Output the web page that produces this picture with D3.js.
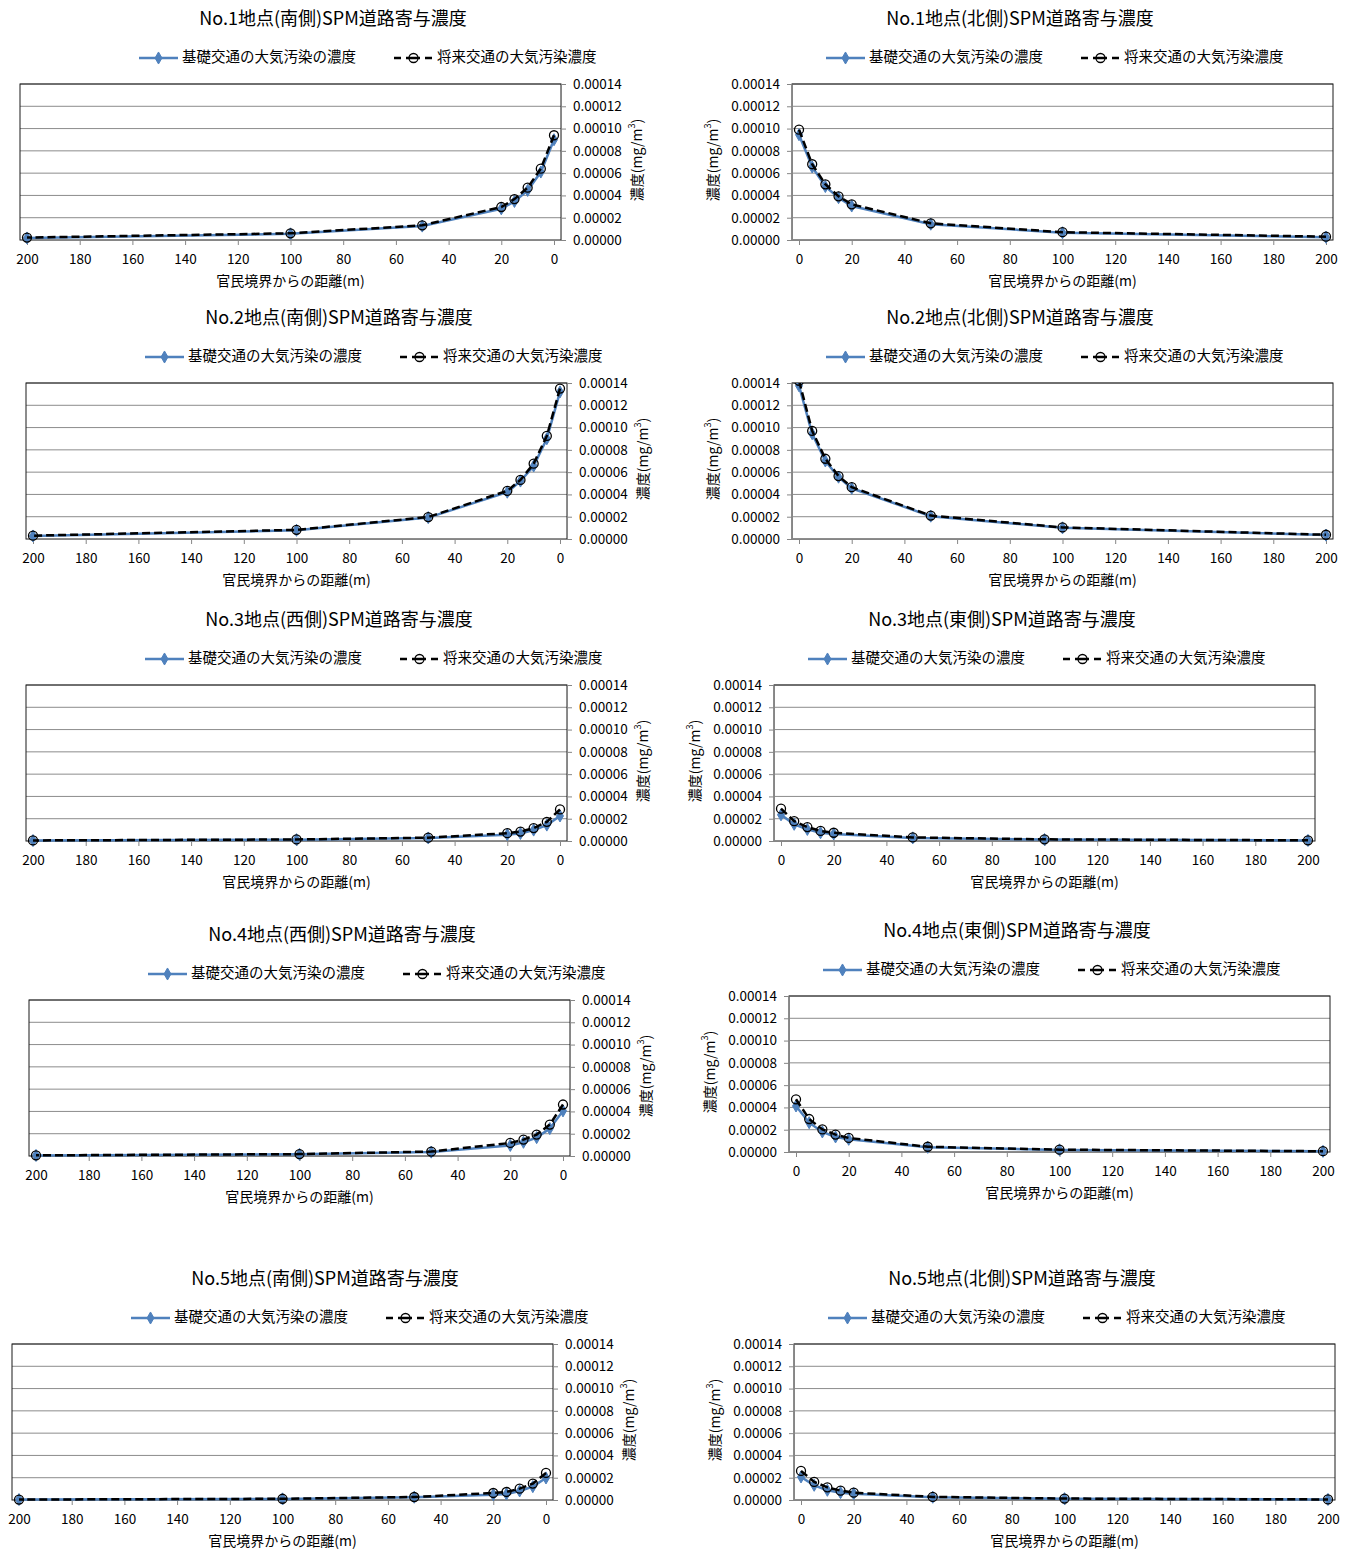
<!DOCTYPE html>
<html>
<head>
<meta charset="utf-8">
<script src="https://cdn.jsdelivr.net/npm/d3@7"></script>
<style>
  body { margin: 0; background: #fff; }
  text { font-family: "Noto Sans CJK JP", "Noto Sans", sans-serif; fill: #000; }
</style>
</head>
<body>
<div id="chart"></div>
<script>
// distance from the boundary (m)
const distance = [0, 5, 10, 15, 20, 50, 100, 200];

// SPM road contribution (mg/m3) - base traffic / future traffic
const no1SouthBase = [9.0e-5, 6.1e-5, 4.45e-5, 3.46e-5, 2.8e-5, 1.25e-5, 0.55e-5, 0.18e-5];
const no1SouthFuture = [9.4e-5, 6.4e-5, 4.7e-5, 3.67e-5, 2.96e-5, 1.32e-5, 0.6e-5, 0.22e-5];
const no1NorthBase = [9.45e-5, 6.55e-5, 4.8e-5, 3.8e-5, 3.05e-5, 1.42e-5, 0.65e-5, 0.25e-5];
const no1NorthFuture = [9.9e-5, 6.8e-5, 5.0e-5, 3.92e-5, 3.2e-5, 1.5e-5, 0.7e-5, 0.3e-5];
const no2SouthBase = [13.2e-5, 9.0e-5, 6.55e-5, 5.2e-5, 4.2e-5, 1.92e-5, 0.78e-5, 0.27e-5];
const no2SouthFuture = [13.5e-5, 9.25e-5, 6.76e-5, 5.3e-5, 4.32e-5, 1.97e-5, 0.82e-5, 0.3e-5];
const no2NorthBase = [13.75e-5, 9.45e-5, 7.0e-5, 5.55e-5, 4.55e-5, 2.05e-5, 1.0e-5, 0.35e-5];
const no2NorthFuture = [14.2e-5, 9.7e-5, 7.2e-5, 5.65e-5, 4.65e-5, 2.1e-5, 1.04e-5, 0.38e-5];
const no3WestBase = [2.25e-5, 1.43e-5, 0.98e-5, 0.68e-5, 0.57e-5, 0.27e-5, 0.12e-5, 0.04e-5];
const no3WestFuture = [2.83e-5, 1.72e-5, 1.16e-5, 0.85e-5, 0.7e-5, 0.3e-5, 0.14e-5, 0.05e-5];
const no3EastBase = [2.35e-5, 1.5e-5, 1.04e-5, 0.74e-5, 0.63e-5, 0.28e-5, 0.13e-5, 0.05e-5];
const no3EastFuture = [2.9e-5, 1.78e-5, 1.25e-5, 0.9e-5, 0.74e-5, 0.32e-5, 0.15e-5, 0.06e-5];
const no4WestBase = [4.05e-5, 2.46e-5, 1.65e-5, 1.23e-5, 0.95e-5, 0.35e-5, 0.15e-5, 0.05e-5];
const no4WestFuture = [4.62e-5, 2.82e-5, 1.92e-5, 1.47e-5, 1.17e-5, 0.4e-5, 0.17e-5, 0.06e-5];
const no4EastBase = [4.13e-5, 2.63e-5, 1.8e-5, 1.35e-5, 1.14e-5, 0.42e-5, 0.19e-5, 0.06e-5];
const no4EastFuture = [4.73e-5, 2.96e-5, 2.03e-5, 1.56e-5, 1.26e-5, 0.47e-5, 0.21e-5, 0.07e-5];
const no5SouthBase = [1.98e-5, 1.2e-5, 0.81e-5, 0.54e-5, 0.48e-5, 0.25e-5, 0.1e-5, 0.04e-5];
const no5SouthFuture = [2.43e-5, 1.47e-5, 1.02e-5, 0.72e-5, 0.63e-5, 0.27e-5, 0.11e-5, 0.04e-5];
const no5NorthBase = [2.07e-5, 1.32e-5, 0.87e-5, 0.66e-5, 0.57e-5, 0.25e-5, 0.12e-5, 0.05e-5];
const no5NorthFuture = [2.61e-5, 1.62e-5, 1.14e-5, 0.84e-5, 0.66e-5, 0.28e-5, 0.13e-5, 0.05e-5];

const titles = [
  "No.1地点(南側)SPM道路寄与濃度", "No.1地点(北側)SPM道路寄与濃度",
  "No.2地点(南側)SPM道路寄与濃度", "No.2地点(北側)SPM道路寄与濃度",
  "No.3地点(西側)SPM道路寄与濃度", "No.3地点(東側)SPM道路寄与濃度",
  "No.4地点(西側)SPM道路寄与濃度", "No.4地点(東側)SPM道路寄与濃度",
  "No.5地点(南側)SPM道路寄与濃度", "No.5地点(北側)SPM道路寄与濃度"
];
const seriesNames = ["基礎交通の大気汚染の濃度", "将来交通の大気汚染濃度"];
const xTicks = [0, 20, 40, 60, 80, 100, 120, 140, 160, 180, 200];
const yTicks = [0, 0.00002, 0.00004, 0.00006, 0.00008, 0.0001, 0.00012, 0.00014];
const xTitle = "官民境界からの距離(m)";

const baseColor = "#4f81bd";

// panel layout (left panels: reversed x, y axis on the right)
var panels = [
  { x: 20, y: 84, side: "L", base: no1SouthBase, future: no1SouthFuture },
  { x: 792, y: 84, side: "R", base: no1NorthBase, future: no1NorthFuture },
  { x: 26, y: 383, side: "L", base: no2SouthBase, future: no2SouthFuture },
  { x: 792, y: 383, side: "R", base: no2NorthBase, future: no2NorthFuture },
  { x: 26, y: 685, side: "L", base: no3WestBase, future: no3WestFuture },
  { x: 774, y: 685, side: "R", base: no3EastBase, future: no3EastFuture },
  { x: 29, y: 1000, side: "L", base: no4WestBase, future: no4WestFuture },
  { x: 789, y: 996, side: "R", base: no4EastBase, future: no4EastFuture },
  { x: 12, y: 1344, side: "L", base: no5SouthBase, future: no5SouthFuture },
  { x: 794, y: 1344, side: "R", base: no5NorthBase, future: no5NorthFuture }
];

var W = 541, H = 156, pad = 2.66;

var svg = d3.select("#chart").append("svg")
  .attr("width", 1354).attr("height", 1552);

var diamond = d3.symbol().type(d3.symbolDiamond).size(42);

panels.forEach(function (p, i) {
  var g = svg.append("g").attr("transform", "translate(" + p.x + "," + p.y + ")");
  var left = p.side === "L";

  var x = d3.scaleLinear()
    .domain(left ? [200 + pad, -pad] : [-pad, 200 + pad])
    .range([0, W]);
  var y = d3.scaleLinear().domain([0, 0.00014]).range([H, 0]);

  // clip
  g.append("clipPath").attr("id", "clip" + i)
    .append("rect").attr("x", -6).attr("y", 0).attr("width", W + 12).attr("height", H + 6);

  // gridlines
  g.selectAll(".grid").data(yTicks.slice(1)).enter()
    .append("line")
    .attr("x1", 0).attr("x2", W)
    .attr("y1", function (d) { return y(d); })
    .attr("y2", function (d) { return y(d); })
    .attr("stroke", "#8c8c8c").attr("stroke-width", 1);

  // plot frame
  g.append("rect").attr("width", W).attr("height", H)
    .attr("fill", "none").attr("stroke", "#1a1a1a").attr("stroke-width", 1);

  // x axis
  var xa = g.append("g").attr("transform", "translate(0," + H + ")")
    .call(d3.axisBottom(x).tickValues(xTicks).tickSize(5).tickPadding(9).tickSizeOuter(0));
  xa.select(".domain").attr("stroke", "#868686").attr("d", "M0,0.5H" + W);
  xa.selectAll(".tick line").attr("stroke", "#868686");
  xa.selectAll("text").style("font-size", "13.5px");

  // y axis
  var ya = g.append("g")
    .attr("transform", "translate(" + (left ? W : 0) + ",0)")
    .call((left ? d3.axisRight(y) : d3.axisLeft(y))
      .tickValues(yTicks).tickFormat(d3.format(".5f"))
      .tickSize(5).tickPadding(7).tickSizeOuter(0));
  ya.select(".domain").attr("stroke", "#868686");
  ya.selectAll(".tick line").attr("stroke", "#868686");
  ya.selectAll("text").style("font-size", "13.5px");

  // y title
  var yt = g.append("text")
    .attr("transform", "translate(" + (left ? W + 77 : -78) + "," + (H / 2 - 2) + ") rotate(-90)")
    .attr("text-anchor", "middle")
    .attr("dominant-baseline", "middle")
    .style("font-size", "14px");
  yt.append("tspan").text("濃度(mg/m");
  yt.append("tspan").attr("dy", "-5").style("font-size", "9px").text("3");
  yt.append("tspan").attr("dy", "5").text(")");

  // x title
  g.append("text")
    .attr("x", W / 2).attr("y", H + 42)
    .attr("text-anchor", "middle").attr("dominant-baseline", "middle")
    .style("font-size", "14px")
    .text(xTitle);

  // chart title
  g.append("text")
    .attr("x", left ? 313 : 228).attr("y", -64)
    .attr("text-anchor", "middle").attr("dominant-baseline", "middle")
    .style("font-size", "18px")
    .text(titles[i]);

  // series
  var baseData = distance.map(function (d, k) { return [d, p.base[k]]; });
  var futureData = distance.map(function (d, k) { return [d, p.future[k]]; });
  var line = d3.line().x(function (d) { return x(d[0]); }).y(function (d) { return y(d[1]); });

  var plot = g.append("g").attr("clip-path", "url(#clip" + i + ")");
  plot.append("path").datum(baseData).attr("d", line)
    .attr("fill", "none").attr("stroke", baseColor).attr("stroke-width", 2.5);
  plot.selectAll(".dia").data(baseData).enter()
    .append("path")
    .attr("d", diamond)
    .attr("transform", function (d) { return "translate(" + x(d[0]) + "," + y(d[1]) + ")"; })
    .attr("fill", baseColor).attr("stroke", baseColor);
  plot.append("path").datum(futureData).attr("d", line)
    .attr("fill", "none").attr("stroke", "#000").attr("stroke-width", 2.5)
    .attr("stroke-dasharray", "8,4");
  plot.selectAll(".cir").data(futureData).enter()
    .append("circle")
    .attr("cx", function (d) { return x(d[0]); })
    .attr("cy", function (d) { return y(d[1]); })
    .attr("r", 4.5)
    .attr("fill", "none").attr("stroke", "#000").attr("stroke-width", 1.3);

  // legend
  var lg = g.append("g").attr("transform", "translate(" + (left ? 119 : 34) + ",-26)");
  lg.append("line").attr("x1", 0).attr("x2", 39)
    .attr("stroke", baseColor).attr("stroke-width", 2.5);
  lg.append("path").attr("d", diamond).attr("transform", "translate(19.5,0)")
    .attr("fill", baseColor).attr("stroke", baseColor);
  lg.append("text").attr("x", 43).attr("dominant-baseline", "middle")
    .style("font-size", "14.5px").text(seriesNames[0]);
  lg.append("line").attr("x1", 255).attr("x2", 294)
    .attr("stroke", "#000").attr("stroke-width", 2.5)
    .attr("stroke-dasharray", "7,5,14,5,7");
  lg.append("circle").attr("cx", 274.5).attr("cy", 0).attr("r", 4.5)
    .attr("fill", "none").attr("stroke", "#000").attr("stroke-width", 1.3);
  lg.append("text").attr("x", 298).attr("dominant-baseline", "middle")
    .style("font-size", "14.5px").text(seriesNames[1]);
});
</script>
</body>
</html>
